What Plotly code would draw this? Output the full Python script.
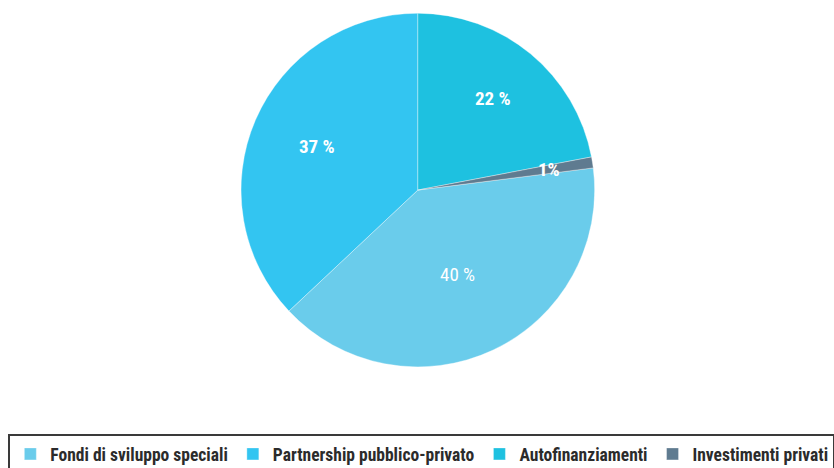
import math
import plotly.graph_objects as go

labels = ["Fondi di sviluppo speciali", "Partnership pubblico-privato", "Autofinanziamenti", "Investimenti privati"]
values = [40, 37, 22, 1]
texts = ["40 %", "37 %", "22 %", "1%"]
colors = ["#6ACCEB", "#33C5F1", "#1EC1E0", "#5F7B90"]

# styling: radial position (fraction of radius) and weight of each slice label
label_radius = [0.53, 0.62, 0.67, 0.75]
label_weight = ["normal", "bold", "bold", "bold"]

FONT = "Roboto Condensed, Open Sans Condensed, Roboto, sans-serif"
W, H = 834, 468
dom_x = [0.289, 0.713]
dom_y = [0.2158, 0.972]

total = sum(values)
rotation = 360 * (values[2] + values[3]) / total

fig = go.Figure(go.Pie(
    labels=labels,
    values=values,
    textinfo="none",
    sort=False,
    direction="clockwise",
    rotation=rotation,
    marker=dict(colors=colors, line=dict(color="rgba(255,255,255,0.45)", width=0.8)),
    domain=dict(x=dom_x, y=dom_y),
    hoverinfo="label+percent",
))

# label placement derived from the pie geometry
cx = (dom_x[0] + dom_x[1]) / 2 * W
cy = (dom_y[0] + dom_y[1]) / 2 * H
r = min((dom_x[1] - dom_x[0]) * W, (dom_y[1] - dom_y[0]) * H) / 2
start = rotation
for v, t, fr, wt in zip(values, texts, label_radius, label_weight):
    mid = start + 360 * v / total / 2
    start += 360 * v / total
    a = math.radians(mid)
    px = cx + fr * r * math.sin(a)
    py = cy + fr * r * math.cos(a)  # paper y upward
    fig.add_annotation(
        x=px / W, y=py / H, xref="paper", yref="paper",
        text=t, showarrow=False, xanchor="center", yanchor="middle",
        font=dict(family=FONT, size=19, color="white", weight=wt),
    )

fig.update_layout(
    width=W, height=H,
    margin=dict(l=0, r=0, t=0, b=0, autoexpand=False),
    paper_bgcolor="white",
    plot_bgcolor="white",
    showlegend=True,
    legend=dict(
        orientation="h",
        x=0.01, xanchor="left",
        y=(H - 434) / H, yanchor="top",
        bordercolor="#3a3a3a", borderwidth=2,
        font=dict(family=FONT, size=17.5, color="#2b2b2b", weight="bold"),
        traceorder="normal",
    ),
)

fig.write_html("out.html")
